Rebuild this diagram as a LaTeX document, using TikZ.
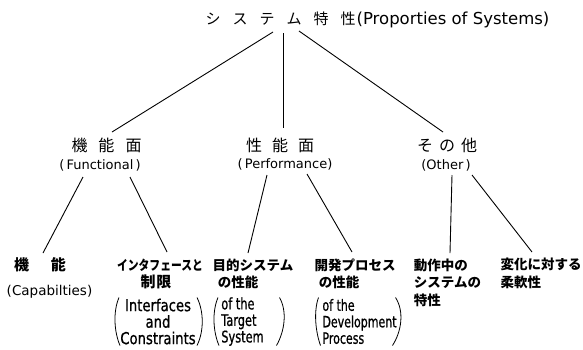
\documentclass[tikz,border=0pt]{standalone}
\usepackage{fontspec}
\usepackage{graphicx}
\setmainfont{DejaVu Sans}
\newfontfamily\jpfont{Noto Sans CJK JP}
\newfontfamily\latnarrow[FakeStretch=0.8,FakeBold=0.8]{DejaVu Sans}
\newfontfamily\latnarrowb[FakeStretch=0.71,FakeBold=0.8]{DejaVu Sans}
\usetikzlibrary{calc}
\tikzset{
  lbl/.style={inner sep=0pt, outer sep=0pt},
  jptwo/.style={lbl, font=\jpfont\fontsize{16}{19}\selectfont},
  entwo/.style={lbl, font=\fontsize{13}{16}\selectfont},
  jpthree/.style={lbl, font=\jpfont\bfseries\fontsize{13.5}{17.5}\selectfont, align=left},
  enblock/.style={lbl, font=\latnarrowb\fontsize{16}{16.5}\selectfont},
  conn/.style={draw=black, line width=0.9pt},
  paren/.style={draw=black, line width=0.8pt},
}
\begin{document}
\begin{tikzpicture}[x=1pt,y=-1pt]
\useasboundingbox (0,0) rectangle (583,349);
% title
\node[lbl] (title) at (377.5,20) {{\jpfont\fontsize{15}{18}\selectfont シ\hspace{12pt}ス\hspace{12pt}テ\hspace{12pt}ム\hspace{12pt}特\hspace{12pt}性}\hspace{1pt}{\fontsize{16.5}{20}\selectfont(Proporties of Systems)}};
% level 2
\node[jptwo] (funcjp) at (106.5,145) {機\hspace{11pt}能\hspace{11pt}面};
\node[entwo] (funcen) at (100,165) {(\,Functional\,)};
\node[jptwo] (perfjp) at (280,145) {性\hspace{10pt}能\hspace{10pt}面};
\node[entwo] (perfen) at (285,164) {(\,Performance)};
\node[jptwo] (othjp) at (447,145) {そ\hspace{6pt}の\hspace{6pt}他};
\node[entwo] (othen) at (446,165) {(Other\,)};
% level 3
\node[jpthree, font=\jpfont\bfseries\fontsize{15}{18}\selectfont] (capjp) at (40,265) {機\hspace{22pt}能};
\node[lbl, font=\fontsize{13.5}{16}\selectfont] (capen) at (49.5,292) {(Capabilties)};
\node[jpthree] (intfjp) at (160,265) {\scalebox{0.8}[1]{インタフェースと}};
\node[jpthree, font=\jpfont\bfseries\fontsize{15}{18}\selectfont] (intfjpb) at (156,282) {制\hspace{1pt}限};
\node[enblock, font=\latnarrow\fontsize{16.5}{16.5}\selectfont, align=center] (intfen) at (158,321.5) {Interfaces\\and\\Constraints};
\node[jpthree] (targjp) at (253,265) {目的システム};
\node[jpthree] (targjpb) at (238,282) {の性能};
\node[enblock, align=left] (targen) at (242.5,321.5) {of the\\Target\\System};
\node[jpthree] (devjp) at (355,265) {開発プロセス};
\node[jpthree] (devjpb) at (339,282) {の性能};
\node[enblock, align=left, font=\latnarrowb\fontsize{15.5}{16.5}\selectfont] (deven) at (359.5,321.5) {of the\\Development\\Process};
\node[jpthree] (opjp) at (447.5,282.5) {動作中の\\システムの\\特性};
\node[jpthree] (flexjp) at (541,273.5) {変化に対する\\柔軟性};
% connectors
\draw[conn] ($(title)+(-104.5pt,-12pt)$) -- ($(funcjp)+(5.5pt,13pt)$);
\draw[conn] ($(title)+(-94.5pt,-13pt)$) -- ($(perfjp)+(3pt,17pt)$);
\draw[conn] ($(title)+(-78.5pt,-11pt)$) -- ($(othjp)+(-4pt,13pt)$);
\draw[conn] ($(funcen)+(-17pt,-12pt)$) -- ($(capjp)+(3pt,12pt)$);
\draw[conn] ($(funcen)+(30pt,-12pt)$) -- ($(intfjp)+(7pt,13pt)$);
\draw[conn] ($(perfen)+(-18pt,-11pt)$) -- ($(targjp)+(-5pt,12pt)$);
\draw[conn] ($(perfen)+(22pt,-10pt)$) -- ($(devjp)+(-3pt,13pt)$);
\draw[conn] ($(othen)+(6pt,-10pt)$) -- ($(opjp)+(2.5pt,29.5pt)$);
\draw[conn] ($(othen)+(26pt,-10pt)$) -- ($(flexjp)+(-9pt,21.5pt)$);
% parentheses
\draw[paren] ($(intfen)+(-39pt,24pt)$) .. controls +(-6pt,-14pt) and +(-6pt,14pt) .. ($(intfen)+(-38pt,-24pt)$);
\draw[paren] ($(intfen)+(39pt,24pt)$) .. controls +(7pt,-14pt) and +(7pt,14pt) .. ($(intfen)+(39pt,-24pt)$);
\draw[paren] ($(targen)+(-24.5pt,24pt)$) .. controls +(-6pt,-14pt) and +(-6pt,14pt) .. ($(targen)+(-23.5pt,-24pt)$);
\draw[paren] ($(targen)+(37pt,24pt)$) .. controls +(8pt,-14pt) and +(8pt,14pt) .. ($(targen)+(34pt,-24pt)$);
\draw[paren] ($(deven)+(-41pt,24pt)$) .. controls +(-5pt,-14pt) and +(-5pt,14pt) .. ($(deven)+(-39pt,-24pt)$);
\draw[paren] ($(deven)+(36pt,24pt)$) .. controls +(9pt,-14pt) and +(9pt,14pt) .. ($(deven)+(33pt,-24pt)$);
\end{tikzpicture}
\end{document}
